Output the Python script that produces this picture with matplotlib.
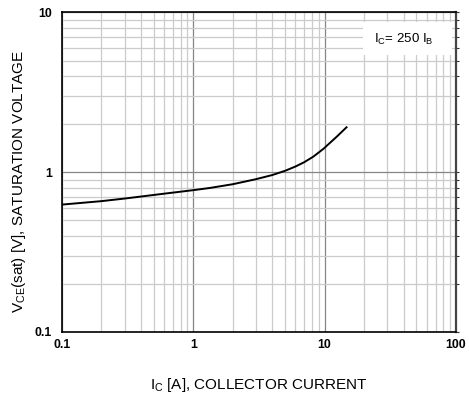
import numpy as np
import matplotlib
matplotlib.use('Agg')
import matplotlib.pyplot as plt
from matplotlib.patches import Rectangle
from matplotlib.ticker import LogLocator, FixedLocator, FixedFormatter, NullFormatter

plt.rcParams['font.family'] = ['Liberation Sans', 'DejaVu Sans']
plt.rcParams['mathtext.fontset'] = 'custom'
plt.rcParams['mathtext.rm'] = 'Liberation Sans'

# ── Data ─────────────────────────────────────────────────────────────────────
ic_amps = [0.1, 0.2, 0.3, 0.61, 1.0, 1.34, 2.0, 3.0, 4.0, 5.0, 6.0, 7.0, 8.2,
           9.8, 12.4, 14.7]
vce_sat = [0.627, 0.659, 0.684, 0.735, 0.772, 0.797, 0.841, 0.904, 0.96, 1.02,
           1.085, 1.155, 1.25, 1.40, 1.67, 1.91]

x_ticks = [0.1, 1, 10, 100]
x_labels = ['0.1', '1', '10', '100']
y_ticks = [0.1, 1, 10]
y_labels = ['0.1', '1', '10']

fig = plt.figure(figsize=(4.69, 4.0), dpi=100)
ax = fig.add_axes([0.132, 0.170, 0.840, 0.799])

ax.set_xscale('log')
ax.set_yscale('log')
ax.set_xlim(0.1, 100)
ax.set_ylim(0.1, 10)

ax.xaxis.set_major_locator(FixedLocator(x_ticks))
ax.xaxis.set_major_formatter(FixedFormatter(x_labels))
ax.yaxis.set_major_locator(FixedLocator(y_ticks))
ax.yaxis.set_major_formatter(FixedFormatter(y_labels))
ax.xaxis.set_minor_locator(LogLocator(base=10, subs=np.arange(2, 10)))
ax.yaxis.set_minor_locator(LogLocator(base=10, subs=np.arange(2, 10)))
ax.xaxis.set_minor_formatter(NullFormatter())
ax.yaxis.set_minor_formatter(NullFormatter())

ax.grid(which='minor', color='#cbcbcb', lw=0.9)
ax.grid(which='major', color='#858585', lw=0.9)
ax.set_axisbelow(True)

ax.tick_params(which='both', length=0, labelsize=8.8)
ax.tick_params(axis='y', which='both', right=True, direction='out',
               length=2, width=0.8, color='#333333')
ax.tick_params(axis='y', which='both', left=False)
for lab in ax.get_xticklabels() + ax.get_yticklabels():
    lab.set_fontweight('bold')
ax.tick_params(axis='x', pad=5)
ax.tick_params(axis='y', pad=5)

for side in ['left', 'bottom', 'top']:
    ax.spines[side].set_color('black')
    ax.spines[side].set_linewidth(1.2)
ax.spines['right'].set_color('#444444')
ax.spines['right'].set_linewidth(1.6)

ax.plot(ic_amps, vce_sat, color='black', lw=1.4, solid_joinstyle='round')

# condition box, white so it hides the grid behind it
ax.add_patch(Rectangle((0.764, 0.867), 0.226, 0.103, transform=ax.transAxes,
                       facecolor='white', edgecolor='none', zorder=1.5))
ax.text(0.868, 0.914, r'$\mathregular{I_C}$= 250 $\mathregular{I_B}$',
        transform=ax.transAxes, ha='center', va='center', fontsize=9.5, zorder=3)

ax.set_xlabel(r'$\mathregular{I_C}$ [A], COLLECTOR CURRENT', fontsize=11, va='center')
ax.set_ylabel(r'$\mathregular{V_{CE}}$(sat) [V], SATURATION VOLTAGE', fontsize=11, va='center')
ax.xaxis.set_label_coords(0.5, -0.166)
ax.yaxis.set_label_coords(-0.109, 0.47)

fig.savefig('out.png', dpi=100)
